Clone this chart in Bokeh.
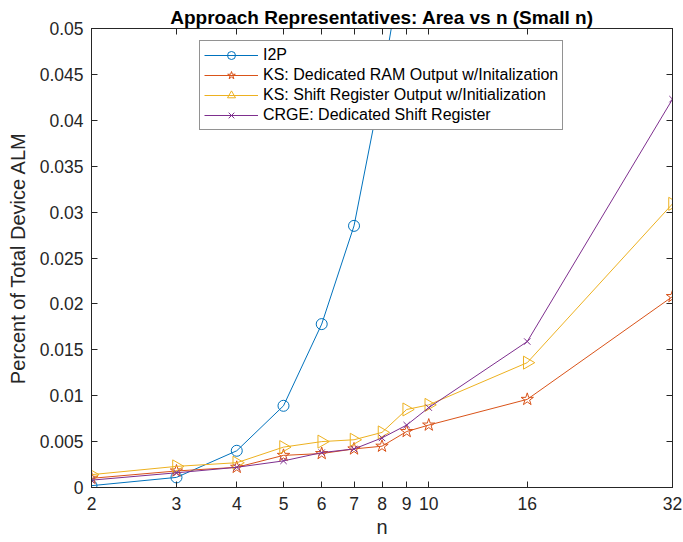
import math
from bokeh.plotting import figure
from bokeh.models import FixedTicker, LinearAxis, Legend, LegendItem, Range1d
from bokeh.embed import file_html
from bokeh.resources import INLINE

# ---- data ----
x_ticks = [2, 3, 4, 5, 6, 7, 8, 9, 10, 16, 32]
x_tick_labels = ["2", "3", "4", "5", "6", "7", "8", "9", "10", "16", "32"]
y_ticks = [0, 0.005, 0.01, 0.015, 0.02, 0.025, 0.03, 0.035, 0.04, 0.045, 0.05]
y_tick_labels = ["0", "0.005", "0.01", "0.015", "0.02", "0.025", "0.03", "0.035", "0.04", "0.045", "0.05"]

n_i2p = [2, 3, 4, 5, 6, 7, 8, 9]
i2p = [0.0002, 0.0011, 0.0040, 0.0089, 0.0178, 0.0285, 0.0440, 0.0600]

n_all = [2, 3, 4, 5, 6, 7, 8, 9, 10, 16, 32]
ks_ram = [0.0010, 0.0018, 0.0022, 0.0035, 0.0037, 0.0042, 0.0045, 0.0061, 0.0068, 0.0096, 0.0208]
ks_sr = [0.0014, 0.0023, 0.0027, 0.0044, 0.0050, 0.0052, 0.0060, 0.0085, 0.0090, 0.0136, 0.0309]
crge = [0.0008, 0.0016, 0.0022, 0.0029, 0.0038, 0.0042, 0.0054, 0.0068, 0.0087, 0.0159, 0.0423]

names = ["I2P", "KS: Dedicated RAM Output w/Initalization",
         "KS: Shift Register Output w/Initialization", "CRGE: Dedicated Shift Register"]
colors = ["#0072BD", "#D95319", "#EDB120", "#7E2F8E"]

FONT = "Liberation Sans"
AX = "#262626"

p = figure(width=683, height=542, x_axis_type="log",
           x_range=Range1d(2, 32), y_range=Range1d(0, 0.05),
           output_backend="svg", toolbar_location=None,
           min_border_left=91, min_border_right=11, min_border_top=28, min_border_bottom=55)

p.title.text = "Approach Representatives: Area vs n (Small n)"
p.title.text_font = FONT
p.title.text_font_size = "19px"
p.title.text_font_style = "bold"
p.title.align = "center"
p.title.text_color = "#000000"
p.title.standoff = 2
p.title.offset = 0

p.xgrid.visible = False
p.ygrid.visible = False
p.outline_line_color = AX

xa = p.xaxis[0]
xa.ticker = FixedTicker(ticks=x_ticks)
xa.major_label_overrides = {t: l for t, l in zip(x_ticks, x_tick_labels)}
xa.axis_label = "n"
ya = p.yaxis[0]
ya.ticker = FixedTicker(ticks=y_ticks)
ya.major_label_overrides = {t: l for t, l in zip(y_ticks, y_tick_labels)}
ya.axis_label = "Percent of Total Device ALM"

for ax in (xa, ya):
    ax.axis_label_text_font = FONT
    ax.axis_label_text_font_size = "20px"
    ax.axis_label_text_font_style = "normal"
    ax.axis_label_text_color = AX
    ax.major_label_text_font = FONT
    ax.major_label_text_font_size = "17.5px"
    ax.major_label_text_color = AX
    ax.axis_line_color = AX
    ax.major_tick_line_color = AX
    ax.major_tick_in = 6
    ax.major_tick_out = 0
    ax.minor_tick_line_color = None
ya.major_label_standoff = 8
xa.major_label_standoff = 9
ya.axis_label_standoff = 8
xa.axis_label_standoff = 3

top = LinearAxis(ticker=FixedTicker(ticks=x_ticks), major_label_text_font_size="0px",
                 major_tick_in=6, major_tick_out=0, minor_tick_line_color=None,
                 axis_line_color=AX, major_tick_line_color=AX, major_label_standoff=0)
right = LinearAxis(ticker=FixedTicker(ticks=y_ticks), major_label_text_font_size="0px",
                   major_tick_in=6, major_tick_out=0, minor_tick_line_color=None,
                   axis_line_color=AX, major_tick_line_color=AX, major_label_standoff=0)
p.add_layout(top, "above")
p.add_layout(right, "right")

items = []
l0 = p.line(n_i2p, i2p, color=colors[0], line_width=1)
m0 = p.scatter(n_i2p, i2p, marker="circle", size=11, line_color=colors[0], fill_color=None, line_width=1)
items.append(LegendItem(label=names[0], renderers=[l0, m0]))

l1 = p.line(n_all, ks_ram, color=colors[1], line_width=1)
m1 = p.scatter(n_all, ks_ram, marker="star", size=13, line_color=colors[1], fill_color=None, line_width=1)
items.append(LegendItem(label=names[1], renderers=[l1, m1]))

l2 = p.line(n_all, ks_sr, color=colors[2], line_width=1)
m2 = p.scatter(n_all, ks_sr, marker="triangle", size=13, angle=-math.pi / 2,
               line_color=colors[2], fill_color=None, line_width=1)
items.append(LegendItem(label=names[2], renderers=[l2, m2]))

l3 = p.line(n_all, crge, color=colors[3], line_width=1)
m3 = p.scatter(n_all, crge, marker="x", size=9, line_color=colors[3], line_width=1)
items.append(LegendItem(label=names[3], renderers=[l3, m3]))

legend = Legend(items=items, location=(108, 357), orientation="vertical")
legend.label_text_font = FONT
legend.label_text_font_size = "16px"
legend.label_text_color = "#000000"
legend.glyph_width = 54
legend.glyph_height = 20
legend.label_height = 20
legend.spacing = 0
legend.padding = 4
legend.margin = 0
legend.label_standoff = 5
legend.border_line_color = AX
legend.border_line_width = 1
legend.background_fill_color = "white"
legend.background_fill_alpha = 1
p.add_layout(legend, "center")

open("out.html", "w").write(file_html(p, INLINE))
